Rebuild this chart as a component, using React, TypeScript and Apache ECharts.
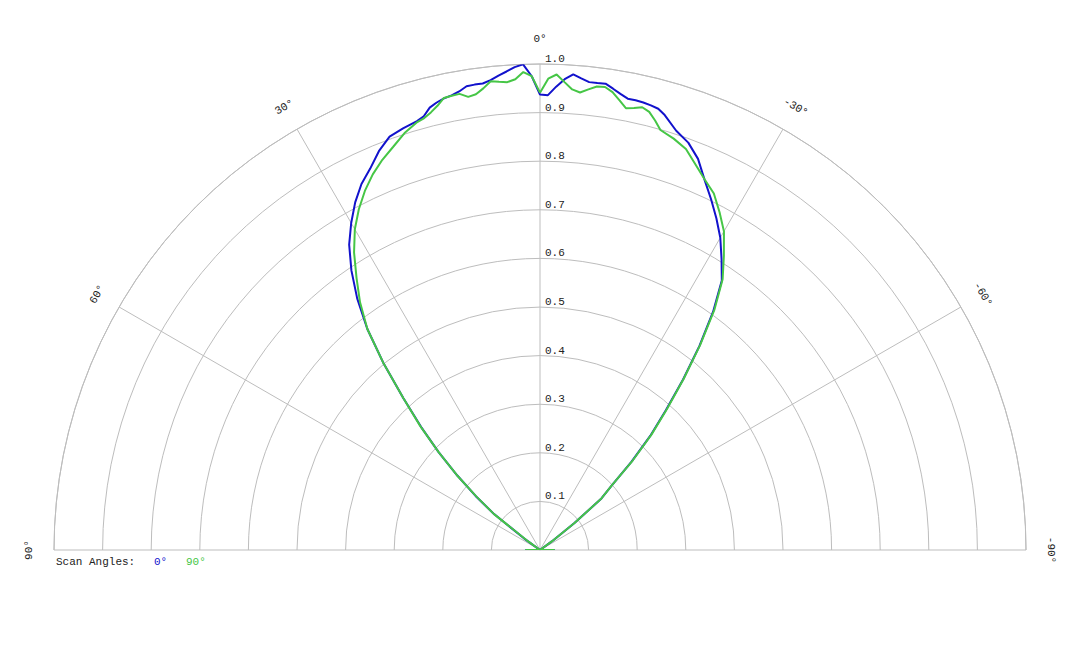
import { useEffect, useRef } from "react";
import * as echarts from "echarts";

// scan angle in degrees (positive = left of the vertical)
const scanAngles = [
    -90, -88, -56, -54, -52, -50, -48, -46, -44, -42, -40, -38, -36, -34,
    -32, -30, -28, -26, -24, -22, -20, -18, -16, -15, -14, -13, -12, -11,
    -10, -9, -8, -7, -6, -5, -4, -3, -2, -1, 0, 1, 2, 3, 4, 5, 6, 7, 8, 9,
    10, 11, 12, 13, 14, 15, 16, 18, 20, 22, 24, 26, 28, 30, 32, 34, 36, 38,
    40, 42, 44, 46, 48, 50, 52, 54, 56, 88, 90
];

// normalised intensity, scan angle 0°
const blueValues = [
    0.03, 0, 0, 0.03, 0.09, 0.165, 0.2, 0.262, 0.327, 0.387, 0.458, 0.533, 0.606, 0.669,
    0.705, 0.742, 0.773, 0.803, 0.833, 0.868, 0.892, 0.907, 0.931, 0.94, 0.943, 0.945, 0.946, 0.946,
    0.953, 0.961, 0.969, 0.968, 0.968, 0.974, 0.981, 0.97, 0.954, 0.936, 0.937, 0.975, 1.0, 0.995, 0.987, 0.98, 0.972, 0.967, 0.967, 0.966,
    0.958, 0.953, 0.95, 0.945, 0.938, 0.924, 0.918, 0.912, 0.905, 0.885, 0.859, 0.838, 0.81, 0.777, 0.741, 0.694, 0.64, 0.577,
    0.5, 0.42, 0.353, 0.29, 0.229, 0.173, 0.12, 0.04, 0, 0, 0.03
];

// normalised intensity, scan angle 90°
const greenValues = [
    0.03, 0, 0, 0.03, 0.09, 0.165, 0.2, 0.265, 0.33, 0.39, 0.46, 0.535, 0.61, 0.672,
    0.714, 0.757, 0.787, 0.816, 0.834, 0.855, 0.878, 0.89, 0.899, 0.915, 0.929, 0.935, 0.93, 0.926,
    0.94, 0.954, 0.962, 0.961, 0.953, 0.945, 0.95, 0.964, 0.979, 0.97, 0.941, 0.975, 0.984, 0.97, 0.965, 0.967, 0.97, 0.957, 0.947, 0.944,
    0.953, 0.952, 0.951, 0.938, 0.928, 0.92, 0.916, 0.902, 0.883, 0.866, 0.846, 0.822, 0.794, 0.762, 0.722, 0.675, 0.63, 0.577,
    0.5, 0.42, 0.355, 0.29, 0.23, 0.17, 0.12, 0.03, 0, 0, 0.03
];

const radiusTicks = [0.1, 0.2, 0.3, 0.4, 0.5, 0.6, 0.7, 0.8, 0.9, 1.0];
const angleTicks = [90, 60, 30, 0, -30, -60, -90];
const seriesNames = ["0°", "90°"];
const lineColors = ["#1212cc", "#46c646"];

const FONT = '"Liberation Mono", "Courier New", monospace';

function App() {

    const chartRef =
        useRef<HTMLDivElement>(null);

    useEffect(() => {

        if (!chartRef.current)
            return;

        const chart =
            echarts.init(chartRef.current, null, { renderer: "svg" });

        const gridColor = "#bdbdbd";

        chart.setOption({
            animation: false,
            polar: {
                center: [540, 550],
                radius: 486
            },
            angleAxis: {
                type: "value",
                min: -90,
                max: 90,
                interval: 30,
                startAngle: 0,
                endAngle: 180,
                clockwise: false,
                axisLine: { lineStyle: { color: gridColor, width: 1 } },
                axisTick: { show: false },
                axisLabel: { show: false },
                splitLine: { show: true, lineStyle: { color: gridColor, width: 1 } }
            },
            radiusAxis: {
                type: "value",
                min: 0,
                max: 1,
                interval: 0.1,
                axisLine: { show: false },
                axisTick: { show: false },
                axisLabel: { show: false },
                splitLine: { show: true, lineStyle: { color: gridColor, width: 1 } }
            },
            series: [blueValues, greenValues].map((vals, i) => ({
                type: "line",
                name: seriesNames[i],
                coordinateSystem: "polar",
                symbol: "none",
                data: vals.map((v, j) => [v, scanAngles[j]]),
                lineStyle: { color: lineColors[i], width: 2 },
                itemStyle: { color: lineColors[i] }
            }))
        });

        const toPixel = (r: number, a: number) =>
            chart.convertToPixel({ polarIndex: 0 } as any, [r, a]) as number[];

        const graphics: any[] = [];

        // ring values sit just above each ring, right of the 0° spoke
        radiusTicks.forEach((v) => {
            const [x, y] = toPixel(v, 0);
            graphics.push({
                type: "text",
                x: x + 5,
                y: y - 5,
                style: {
                    text: v.toFixed(1),
                    font: `11px ${FONT}`,
                    fill: "#222",
                    align: "left",
                    verticalAlign: "middle"
                }
            });
        });

        // angle labels outside the outer ring, turned along the arc
        angleTicks.forEach((a) => {
            const [x, y] = toPixel(1.052, a);
            graphics.push({
                type: "text",
                x,
                y,
                rotation: (a * Math.PI) / 180,
                style: {
                    text: `${a}°`,
                    font: `11px ${FONT}`,
                    fill: "#222",
                    align: "center",
                    verticalAlign: "middle"
                }
            });
        });

        graphics.push({
            type: "text",
            x: 56,
            y: 562,
            style: {
                text: "Scan Angles:",
                font: `11px ${FONT}`,
                fill: "#222",
                verticalAlign: "middle"
            }
        });

        [154, 186].forEach((lx, i) => {
            graphics.push({
                type: "text",
                x: lx,
                y: 562,
                style: {
                    text: seriesNames[i],
                    font: `11px ${FONT}`,
                    fill: lineColors[i],
                    verticalAlign: "middle"
                }
            });
        });

        chart.setOption({ graphic: graphics });

        return () => {
            chart.dispose();
        };

    }, []);

    return (
        <div
            ref={chartRef}
            style={{
                position: "fixed",
                left: 0,
                top: 0,
                width: "1080px",
                height: "648px",
                background: "#fff"
            }}
        />
    );
}

export default App;
